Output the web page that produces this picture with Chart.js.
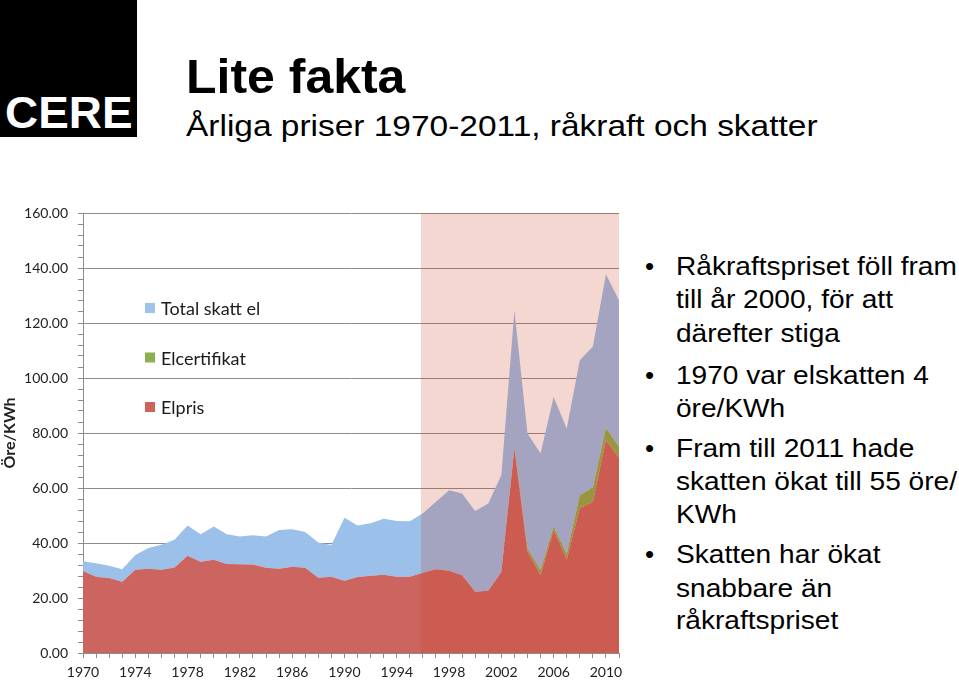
<!DOCTYPE html>
<html>
<head>
<meta charset="utf-8">
<script src="https://cdn.jsdelivr.net/npm/chart.js@4"></script>
<style>
html,body{margin:0;padding:0;background:#fff;width:959px;height:681px;overflow:hidden;}
body{position:relative;font-family:"Liberation Sans",Arial,sans-serif;color:#000;}
#logo{position:absolute;left:0;top:0;width:137px;height:137px;background:#000;}
.t{position:absolute;white-space:nowrap;transform-origin:0 0;}
#logo .t{color:#fff;font-weight:bold;font-size:45px;line-height:45px;left:5px;top:90px;transform:scaleX(1.02);}
#title{left:186px;top:52px;font-size:49px;line-height:49px;font-weight:bold;transform:scaleX(1.02);}
#subtitle{left:186px;top:111px;font-size:30px;line-height:30px;transform:scaleX(1.115);}
.b{font-size:26px;line-height:26px;transform:scaleX(1.08);}
.dot{font-size:26px;line-height:26px;}
#chartWrap{position:absolute;left:0;top:190px;width:640px;height:491px;}
</style>
</head>
<body>
<div id="logo"><div class="t">CERE</div></div>
<div id="title" class="t">Lite fakta</div>
<div id="subtitle" class="t">Årliga priser 1970-2011, råkraft och skatter</div>

<div class="t dot" style="left:645px;top:253px">•</div>
<div class="t b" style="left:676px;top:253px">Råkraftspriset föll fram</div>
<div class="t b" style="left:676px;top:286px">till år 2000, för att</div>
<div class="t b" style="left:676px;top:320px">därefter stiga</div>

<div class="t dot" style="left:645px;top:362px">•</div>
<div class="t b" style="left:676px;top:362px">1970 var elskatten 4</div>
<div class="t b" style="left:676px;top:395px">öre/KWh</div>

<div class="t dot" style="left:645px;top:435px">•</div>
<div class="t b" style="left:676px;top:435px">Fram till 2011 hade</div>
<div class="t b" style="left:676px;top:468px">skatten ökat till 55 öre/</div>
<div class="t b" style="left:676px;top:501px">KWh</div>

<div class="t dot" style="left:645px;top:541px">•</div>
<div class="t b" style="left:676px;top:541px">Skatten har ökat</div>
<div class="t b" style="left:676px;top:575px">snabbare än</div>
<div class="t b" style="left:676px;top:607px">råkraftspriset</div>

<div id="chartWrap"><canvas id="c" width="640" height="491"></canvas></div>

<script>
const years = [1970,1971,1972,1973,1974,1975,1976,1977,1978,1979,
               1980,1981,1982,1983,1984,1985,1986,1987,1988,1989,
               1990,1991,1992,1993,1994,1995,1996,1997,1998,1999,
               2000,2001,2002,2003,2004,2005,2006,2007,2008,2009,
               2010,2011];

const elpris = [29.8,27.7,27.3,25.9,30.3,30.6,30.3,31.1,35.4,33.2,
                33.9,32.4,32.3,32.2,31.0,30.6,31.4,31.0,27.4,27.7,
                26.3,27.6,28.1,28.5,27.7,27.7,29.2,30.5,29.9,28.3,
                22.3,22.6,29.5,74.5,36.8,28.4,44.7,34.0,52.6,55.0,
                77.4,71.0];

const elcertifikat = [0,0,0,0,0,0,0,0,0,0,
                      0,0,0,0,0,0,0,0,0,0,
                      0,0,0,0,0,0,0,0,0,0,
                      0,0,0,0.3,1.3,1.8,1.4,2.0,4.8,5.2,
                      4.4,4.0];

const totalSkattEl = [3.6,4.9,4.4,4.6,5.3,7.6,9.1,10.1,11.0,10.0,
                      12.1,10.8,10.1,10.6,11.4,14.1,13.6,13.0,12.8,11.6,
                      22.9,18.8,19.1,20.3,20.3,20.2,21.6,24.5,29.3,29.7,
                      29.3,31.8,35.2,49.8,41.7,42.4,47.0,45.6,49.1,51.3,
                      55.9,53.3];

const seriesLabels = ['Elpris','Elcertifikat','Total skatt el'];
const shadeFromYear = 1995.85;
const shadeToYear = 2011;

const GRID = '#8c8c8c';
const toPoints = arr => arr.map((v, i) => ({x: years[i], y: v}));

const shadePlugin = {
  id: 'shade',
  afterDatasetsDraw(chart) {
    const {ctx, chartArea, scales} = chart;
    const x0 = scales.x.getPixelForValue(shadeFromYear);
    const x1 = scales.x.getPixelForValue(shadeToYear);
    ctx.save();
    ctx.fillStyle = 'rgba(205,55,25,0.2)';
    ctx.fillRect(x0, chartArea.top, x1 - x0, chartArea.bottom - chartArea.top);
    ctx.restore();
  }
};

const legendPlugin = {
  id: 'insideLegend',
  afterDraw(chart) {
    const {ctx, chartArea} = chart;
    const items = chart.data.datasets.slice().reverse();
    ctx.save();
    ctx.font = '18px Lato';
    ctx.textBaseline = 'alphabetic';
    ctx.textAlign = 'left';
    items.forEach((ds, i) => {
      const cy = chartArea.top + 95 + i * 49.5;
      ctx.fillStyle = ds.legendColor;
      ctx.fillRect(chartArea.left + 62, cy - 5, 10, 10);
      ctx.fillStyle = '#1a1a1a';
      ctx.fillText(ds.label, chartArea.left + 78, cy + 7);
    });
    ctx.restore();
  }
};

new Chart(document.getElementById('c'), {
  type: 'line',
  data: {
    datasets: [
      {label: seriesLabels[0], data: toPoints(elpris), backgroundColor: '#CC6560', legendColor: '#CF625D', borderColor: 'rgba(0,0,0,0)', fill: 'origin'},
      {label: seriesLabels[1], data: toPoints(elcertifikat), backgroundColor: '#8DAE4C', legendColor: '#8DB04F', borderColor: 'rgba(0,0,0,0)', fill: '-1'},
      {label: seriesLabels[2], data: toPoints(totalSkattEl), backgroundColor: '#9BC0EA', legendColor: '#9DC3EA', borderColor: 'rgba(0,0,0,0)', fill: '-1'}
    ]
  },
  options: {
    responsive: false,
    animation: false,
    devicePixelRatio: 1,
    elements: {line: {borderWidth: 0, tension: 0}, point: {radius: 0, hoverRadius: 0}},
    layout: {padding: {left: 0, right: 21, top: 23, bottom: 0}},
    plugins: {legend: {display: false}, tooltip: {enabled: false}},
    scales: {
      x: {
        type: 'linear', min: 1970, max: 2011,
        ticks: {
          stepSize: 1, autoSkip: false, maxRotation: 0, minRotation: 0, padding: 6,
          color: '#222', font: {family: 'Lato', size: 14},
          callback: v => ((Math.round(v) - 1970) % 4 === 0 ? String(Math.round(v)) : '')
        },
        grid: {drawOnChartArea: false, tickLength: 5, color: GRID},
        border: {color: GRID},
        afterFit: s => { s.height = 28; }
      },
      y: {
        stacked: true, min: 0, max: 160,
        ticks: {
          stepSize: 4, autoSkip: false, padding: 10, color: '#222', font: {family: 'Lato', size: 14},
          callback: v => (Math.round(v) % 20 === 0 ? Number(v).toFixed(2) : '')
        },
        grid: {
          color: c => (c.tick && Math.round(c.tick.value) % 20 === 0) ? GRID : 'rgba(0,0,0,0)',
          tickColor: GRID, tickLength: 5
        },
        border: {color: GRID},
        title: {display: true, text: 'Öre/KWh', color: '#222', font: {family: 'Lato', size: 16, weight: 'bold'}, padding: {top: 0, bottom: 0}},
        afterFit: s => { s.width = 83; }
      }
    }
  },
  plugins: [shadePlugin, legendPlugin]
});
</script>
</body>
</html>
